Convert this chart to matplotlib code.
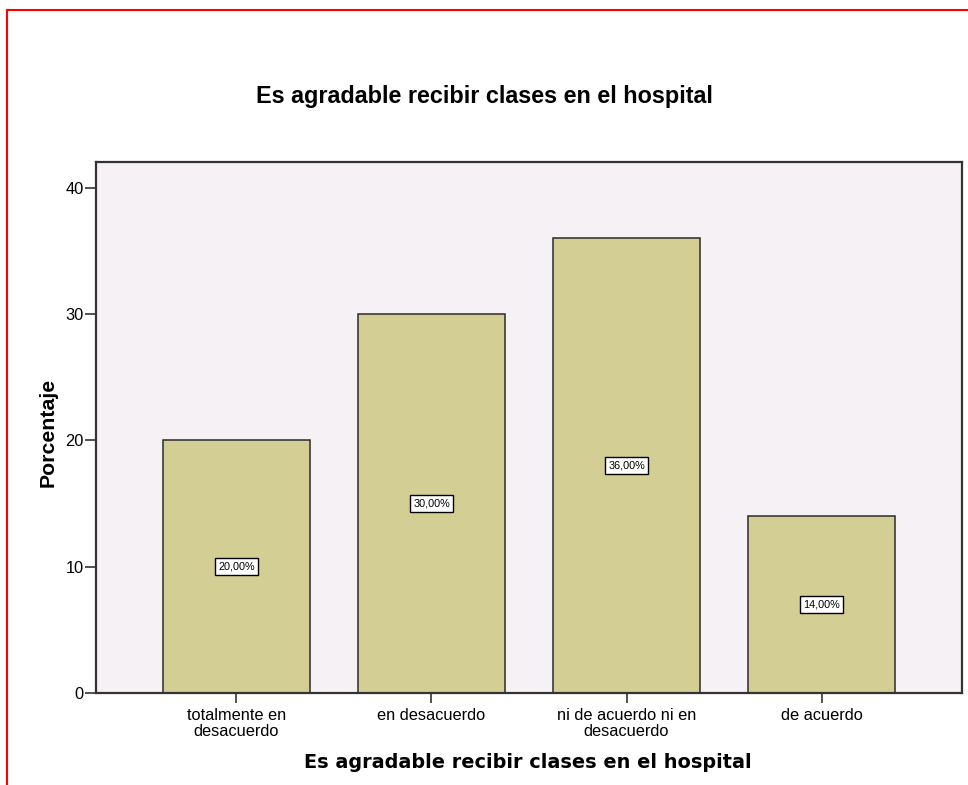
import matplotlib.pyplot as plt
from matplotlib.lines import Line2D

# Data
categorias = ['totalmente en\ndesacuerdo', 'en desacuerdo',
              'ni de acuerdo ni en\ndesacuerdo', 'de acuerdo']
porcentajes = [20.0, 30.0, 36.0, 14.0]
etiquetas = ['20,00%', '30,00%', '36,00%', '14,00%']
y_ticks = [0, 10, 20, 30, 40]

titulo = 'Es agradable recibir clases en el hospital'

fig = plt.figure(figsize=(9.68, 7.85), dpi=100)
ax = fig.add_axes([96 / 968, 92 / 785, 866 / 968, 531 / 785])
ax.set_facecolor('#f5f1f5')

x = range(len(categorias))
ax.bar(x, porcentajes, width=0.75, color='#d3ce93', edgecolor='#2b2b2b', linewidth=1.1, zorder=2)

# value labels in the middle of each bar
for i, (v, txt) in enumerate(zip(porcentajes, etiquetas)):
    ax.text(i, v / 2, txt, ha='center', va='center', fontsize=7.8, family='Liberation Sans',
            bbox=dict(boxstyle='square,pad=0.3', facecolor='white', edgecolor='black', linewidth=1.0),
            zorder=3)

ax.set_xlim(-0.72, 3.72)
ax.set_ylim(0, 42.05)
ax.set_yticks(y_ticks)
ax.set_xticks(list(x))
ax.set_xticklabels(categorias, fontsize=11.8, family='Liberation Sans', linespacing=1.05)
ax.set_yticklabels([str(t) for t in y_ticks], fontsize=11.8, family='Liberation Sans')
ax.tick_params(axis='y', length=8, width=1.2, color='#333333', pad=1)
ax.tick_params(axis='x', length=7, width=1.2, color='#333333', pad=4)
for s in ax.spines.values():
    s.set_color('#333333')
    s.set_linewidth(1.6)

fig.text(0.5, 1 - 97 / 785, titulo, ha='center', va='center', fontsize=16.8,
         fontweight='bold', family='Liberation Sans')
fig.text(528 / 968, 1 - 763 / 785, titulo, ha='center', va='center', fontsize=13.9,
         fontweight='bold', family='DejaVu Sans')
fig.text(48 / 968, 1 - 432 / 785, 'Porcentaje', ha='center', va='center', rotation=90,
         fontsize=15.3, fontweight='bold', family='Liberation Sans')

# red frame around the output
fig.add_artist(Line2D([7 / 968, 7 / 968], [0, 1 - 10 / 785], transform=fig.transFigure,
                      color='red', linewidth=1.5))
fig.add_artist(Line2D([7 / 968, 1], [1 - 10 / 785, 1 - 10 / 785], transform=fig.transFigure,
                      color='red', linewidth=1.5))

fig.savefig('out.png', dpi=100)
